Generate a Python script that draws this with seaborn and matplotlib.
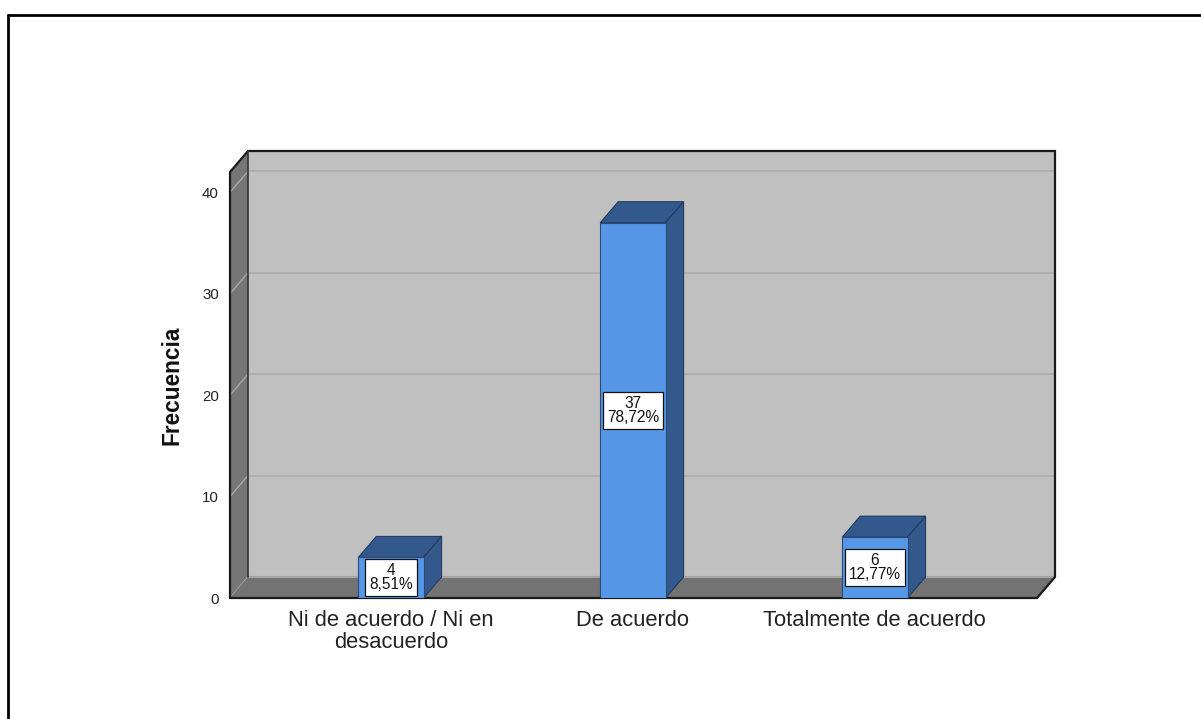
import numpy as np
import pandas as pd
import matplotlib
matplotlib.use("Agg")
import matplotlib.pyplot as plt
from matplotlib.patches import Polygon
from matplotlib.lines import Line2D
import seaborn as sns

# ---- data ----
categories = ["Ni de acuerdo / Ni en\ndesacuerdo", "De acuerdo", "Totalmente de acuerdo"]
counts = [4, 37, 6]
y_ticks = [0, 10, 20, 30, 40]
y_label = "Frecuencia"

total = sum(counts)
pct_labels = [f"{c / total * 100:.2f}".replace(".", ",") + "%" for c in counts]

sns.set_style("white")
plt.rcParams["font.family"] = ["Liberation Sans", "DejaVu Sans"]

W, H = 1201, 719
fig = plt.figure(figsize=(W / 100, H / 100), dpi=100)

# front plane of the 3D box in pixels
L, R, T, B = 230, 1037, 172, 598
ax = fig.add_axes([L / W, (H - B) / H, (R - L) / W, (B - T) / H])

xmin, xmax = -0.665, 2.67
ymin, ymax = 0, 42
DX_PX, DY_PX = 18, 21
ddx = DX_PX * (xmax - xmin) / (R - L)
ddy = DY_PX * (ymax - ymin) / (B - T)

front_col = "#5597E6"
dark_col = "#33598C"
wall_col = "#C0C0C0"
side_col = "#767676"

df = pd.DataFrame({"cat": categories, "n": counts})
sns.barplot(data=df, x="cat", y="n", width=0.27, color=front_col, saturation=1,
            edgecolor="#2A4A75", linewidth=0.8, ax=ax, zorder=5)

ax.set_xlim(xmin, xmax)
ax.set_ylim(ymin, ymax)

# back wall
ax.add_patch(Polygon([(xmin + ddx, ymin + ddy), (xmax + ddx, ymin + ddy),
                      (xmax + ddx, ymax + ddy), (xmin + ddx, ymax + ddy)],
                     closed=True, fc=wall_col, ec="none", zorder=0.5, clip_on=False))
# back wall gridlines
for t in y_ticks:
    if t == 0:
        continue
    ax.plot([xmin + ddx, xmax + ddx], [t + ddy, t + ddy], color="#ABABAB", lw=1.2,
            zorder=0.6, clip_on=False)
# left wall
ax.add_patch(Polygon([(xmin, ymin), (xmin, ymax), (xmin + ddx, ymax + ddy), (xmin + ddx, ymin + ddy)],
                     closed=True, fc=side_col, ec="none", zorder=0.7, clip_on=False))
for t in y_ticks:
    ax.plot([xmin, xmin + ddx], [t, t + ddy], color="#A8A8A8", lw=1.0, zorder=0.8, clip_on=False)
# floor
ax.add_patch(Polygon([(xmin, ymin), (xmax, ymin), (xmax + ddx, ymin + ddy), (xmin + ddx, ymin + ddy)],
                     closed=True, fc="#737373", ec="none", zorder=0.9, clip_on=False))
ax.plot([xmin + ddx, xmax + ddx], [ymin + ddy, ymin + ddy], color="#A5A5A5", lw=1.5,
        zorder=0.95, clip_on=False)
# outlines
outline_x = [xmin, xmin, xmin + ddx, xmax + ddx, xmax + ddx, xmax, xmin]
outline_y = [ymin, ymax, ymax + ddy, ymax + ddy, ymin + ddy, ymin, ymin]
ax.plot(outline_x, outline_y, color="#1A1A1A", lw=1.6, zorder=1, clip_on=False,
        solid_joinstyle="miter")
ax.plot([xmin + ddx, xmin + ddx], [ymin + ddy, ymax + ddy], color="#333333", lw=1.2,
        zorder=1, clip_on=False)

# 3D top and side of bars + value labels
for p, c, pl in zip(ax.patches[:len(counts)], counts, pct_labels):
    x0 = p.get_x()
    w = p.get_width()
    h = p.get_height()
    x1 = x0 + w
    ax.add_patch(Polygon([(x0, h), (x1, h), (x1 + ddx, h + ddy), (x0 + ddx, h + ddy)],
                         closed=True, fc=dark_col, ec="#223C60", lw=0.8, zorder=4, clip_on=False))
    ax.add_patch(Polygon([(x1, 0), (x1, h), (x1 + ddx, h + ddy), (x1 + ddx, ddy)],
                         closed=True, fc=dark_col, ec="#223C60", lw=0.8, zorder=4, clip_on=False))
    ax.text(x0 + w / 2, h / 2, f"{c}\n{pl}", ha="center", va="center", fontsize=11.2,
            linespacing=0.9, color="#111111", zorder=6,
            bbox=dict(boxstyle="square,pad=0.25", fc="white", ec="#111111", lw=0.9))

for s in ax.spines.values():
    s.set_visible(False)
ax.set_facecolor("none")
ax.set_yticks(y_ticks)
ax.set_yticklabels([str(t) for t in y_ticks], fontsize=10.8, color="#222222")
ax.tick_params(axis="y", length=0, pad=8)
ax.set_xticks(range(len(categories)))
ax.set_xticklabels(categories, fontsize=15.8, color="#222222", linespacing=1.02)
ax.tick_params(axis="x", length=0, pad=9)
ax.set_xlabel("")
ax.set_ylabel(y_label, fontsize=16.3, fontweight="bold", color="#111111")
ax.yaxis.set_label_coords(-0.058, 0.5)

# outer frame
fig.add_artist(Line2D([8 / W, 8 / W], [1 - 15 / H, 0], transform=fig.transFigure,
                      color="black", lw=2))
fig.add_artist(Line2D([8 / W, 1], [1 - 15 / H, 1 - 15 / H], transform=fig.transFigure,
                      color="black", lw=2))

fig.savefig("out.png", dpi=100)
